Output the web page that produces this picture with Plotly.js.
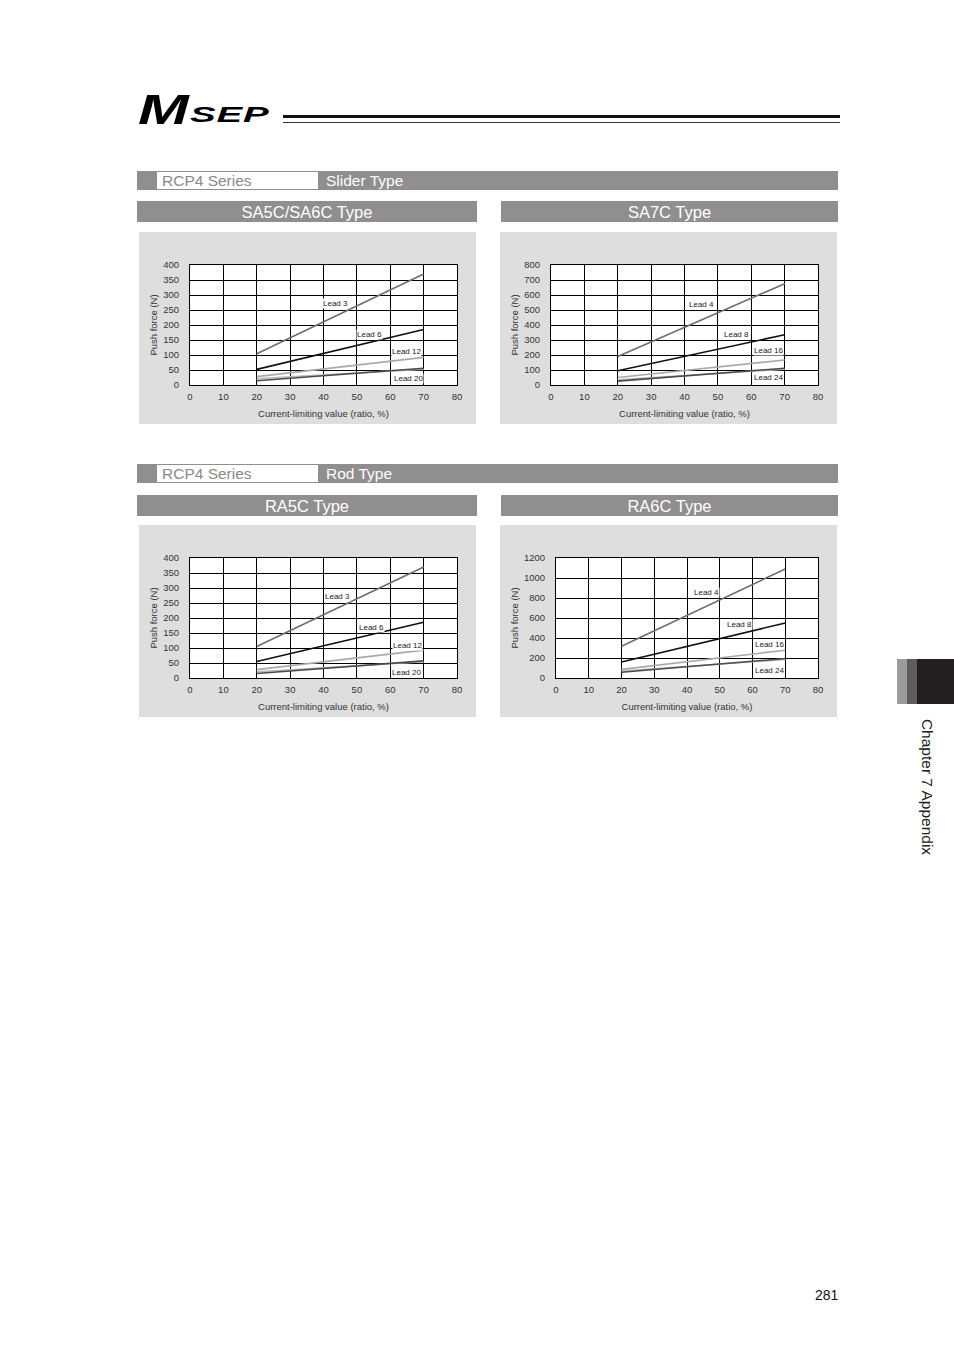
<!DOCTYPE html>
<html>
<head>
<meta charset="utf-8">
<script src="https://cdn.plot.ly/plotly-3.0.1.min.js"></script>
<style>
  html, body { margin: 0; padding: 0; background: #fff; }
  body { width: 954px; height: 1350px; position: relative; overflow: hidden;
         font-family: "Liberation Sans", Arial, sans-serif; }
  .logo-m { position: absolute; left: 138px; top: 89px; font-size: 42px; font-weight: bold; font-style: italic;
            transform-origin: left top; transform: scaleX(1.45); line-height: 1; }
  .logo-sep { position: absolute; left: 190px; top: 104px; font-size: 22px; font-weight: bold; font-style: italic;
              transform-origin: left top; transform: scaleX(1.75); line-height: 1; letter-spacing: 0.5px; }
  .rule-thick { position: absolute; left: 283px; top: 115px; width: 557px; height: 2.5px; background: #111; }
  .rule-thin { position: absolute; left: 283px; top: 122px; width: 557px; height: 1px; background: #333; }
  .series-bar { position: absolute; left: 137px; width: 701px; height: 19px; background: #908e8f; }
  .series-bar .box { position: absolute; left: 20px; top: 1px; width: 161px; height: 17px; background: #fff;
                     color: #8a8a8a; font-size: 15.5px; line-height: 17px; padding-left: 5px; box-sizing: border-box; }
  .series-bar .kind { position: absolute; left: 189px; top: 0; color: #fff; font-size: 15.5px; line-height: 19px; }
  .type-bar { position: absolute; height: 21px; background: #908e8f; color: #fff; font-size: 16.5px;
              line-height: 22px; text-align: center; }
  .panel { position: absolute; width: 337px; height: 192px; }
  .tab { position: absolute; top: 659px; height: 45px; }
  .chapter { position: absolute; left: 927px; top: 787px; transform: translate(-50%, -50%) rotate(90deg);
             white-space: nowrap; font-size: 15.5px; color: #222; }
  .page-no { position: absolute; left: 815px; top: 1287px; font-size: 14px; color: #111; }
</style>
</head>
<body>
<div class="logo-m">M</div>
<div class="logo-sep">SEP</div>
<div class="rule-thick"></div>
<div class="rule-thin"></div>

<div class="series-bar" style="top:171px;"><div class="box">RCP4 Series</div><div class="kind">Slider Type</div></div>
<div class="type-bar" style="left:137px; top:201px; width:340px;">SA5C/SA6C Type</div>
<div class="type-bar" style="left:501px; top:201px; width:337px;">SA7C Type</div>
<div class="panel" id="sa5c" style="left:139px; top:232px;"></div>
<div class="panel" id="sa7c" style="left:500px; top:232px;"></div>

<div class="series-bar" style="top:464px;"><div class="box">RCP4 Series</div><div class="kind">Rod Type</div></div>
<div class="type-bar" style="left:137px; top:495px; width:340px;">RA5C Type</div>
<div class="type-bar" style="left:501px; top:495px; width:337px;">RA6C Type</div>
<div class="panel" id="ra5c" style="left:139px; top:525px;"></div>
<div class="panel" id="ra6c" style="left:500px; top:525px;"></div>

<div class="tab" style="left:897px; width:10px; background:#9b9b9b;"></div>
<div class="tab" style="left:907px; width:10px; background:#5e5c5d;"></div>
<div class="tab" style="left:917px; width:37px; background:#231f20;"></div>
<div class="chapter">Chapter 7 Appendix</div>
<div class="page-no">281</div>

<script>
// Push force vs current-limiting value (end points at 20% and 70%)
const X_PTS = [20, 70];
const X_TICKS = [0, 10, 20, 30, 40, 50, 60, 70, 80];
const X_TITLE = "Current-limiting value (ratio, %)";
const Y_TITLE = "Push force (N)";

// SA5C/SA6C
const SA5_LEAD3 = [104, 370];
const SA5_LEAD6 = [52, 185];
const SA5_LEAD12 = [28, 92];
const SA5_LEAD20B = [21, 53];
const SA5_LEAD20 = [14, 56];
const SA5_Y_TICKS = [0, 50, 100, 150, 200, 250, 300, 350, 400];

// SA7C
const SA7_LEAD4 = [190, 675];
const SA7_LEAD8 = [95, 335];
const SA7_LEAD16 = [50, 167];
const SA7_LEAD24B = [35, 105];
const SA7_LEAD24 = [26, 112];
const SA7_Y_TICKS = [0, 100, 200, 300, 400, 500, 600, 700, 800];

// RA5C
const RA5_LEAD3 = [105, 370];
const RA5_LEAD6 = [55, 186];
const RA5_LEAD12 = [28, 93];
const RA5_LEAD20B = [21, 54];
const RA5_LEAD20 = [15, 57];
const RA5_Y_TICKS = [0, 50, 100, 150, 200, 250, 300, 350, 400];

// RA6C
const RA6_LEAD4 = [318, 1090];
const RA6_LEAD8 = [160, 550];
const RA6_LEAD16 = [86, 278];
const RA6_LEAD24B = [70, 185];
const RA6_LEAD24 = [58, 195];
const RA6_Y_TICKS = [0, 200, 400, 600, 800, 1000, 1200];

const INK = {
  high: "#6e6e6e",   // steepest lead
  mid: "#111111",
  light: "#a9a9a9",
  faint: "#b8b8b8",
  dark: "#4b4b4b",
};
const FONT = "Liberation Sans, Arial, sans-serif";

function line(y, color) {
  return { type: "scatter", mode: "lines", x: X_PTS, y: y, hoverinfo: "skip",
           line: { color: color, width: 1.6 } };
}

function note(x, y, text) {
  return { x: x, y: y, text: text, showarrow: false, bgcolor: "#fff", borderpad: 0,
           font: { family: FONT, size: 8, color: "#222" } };
}

function drawChart(id, series, yTicks, notes, marginL) {
  const traces = [
    line(series[3], INK.faint),
    line(series[4], INK.dark),
    line(series[2], INK.light),
    line(series[1], INK.mid),
    line(series[0], INK.high),
  ];
  const axisBase = {
    showgrid: true, gridcolor: "#000", gridwidth: 1,
    showline: true, linecolor: "#000", linewidth: 1, mirror: true,
    zeroline: false, ticks: "", fixedrange: true,
    tickfont: { family: FONT, size: 9.5, color: "#333" },
  };
  const layout = {
    width: 337, height: 192,
    margin: { l: marginL, r: 19, t: 33, b: 39, pad: 0 },
    paper_bgcolor: "#dedede", plot_bgcolor: "#fff",
    showlegend: false,
    xaxis: { ...axisBase, range: [0, 80], tickvals: X_TICKS, ticklabelstandoff: 3,
      title: { text: X_TITLE, standoff: 8, font: { family: FONT, size: 9.5, color: "#333" } } },
    yaxis: { ...axisBase, range: [0, yTicks[yTicks.length - 1]], tickvals: yTicks, ticklabelstandoff: 8,
      title: { text: Y_TITLE, standoff: 3, font: { family: FONT, size: 9.5, color: "#333" } } },
    annotations: notes.map(n => note(n[0], n[1], n[2])),
  };
  Plotly.newPlot(id, traces, layout, { staticPlot: true, displayModeBar: false });
}

drawChart("sa5c", [SA5_LEAD3, SA5_LEAD6, SA5_LEAD12, SA5_LEAD20B, SA5_LEAD20], SA5_Y_TICKS,
  [[43.6, 273, "Lead 3"], [53.7, 170, "Lead 6"], [65.0, 113, "Lead 12"], [65.6, 23, "Lead 20"]], 51);
drawChart("sa7c", [SA7_LEAD4, SA7_LEAD8, SA7_LEAD16, SA7_LEAD24B, SA7_LEAD24], SA7_Y_TICKS,
  [[45.2, 540, "Lead 4"], [55.7, 340, "Lead 8"], [65.3, 227, "Lead 16"], [65.2, 47, "Lead 24"]], 51);
drawChart("ra5c", [RA5_LEAD3, RA5_LEAD6, RA5_LEAD12, RA5_LEAD20B, RA5_LEAD20], RA5_Y_TICKS,
  [[44.2, 273, "Lead 3"], [54.3, 167, "Lead 6"], [65.2, 110, "Lead 12"], [65.0, 20, "Lead 20"]], 51);
drawChart("ra6c", [RA6_LEAD4, RA6_LEAD8, RA6_LEAD16, RA6_LEAD24B, RA6_LEAD24], RA6_Y_TICKS,
  [[46.1, 853, "Lead 4"], [55.9, 536, "Lead 8"], [65.3, 337, "Lead 16"], [65.3, 80, "Lead 24"]], 56);
</script>
</body>
</html>
